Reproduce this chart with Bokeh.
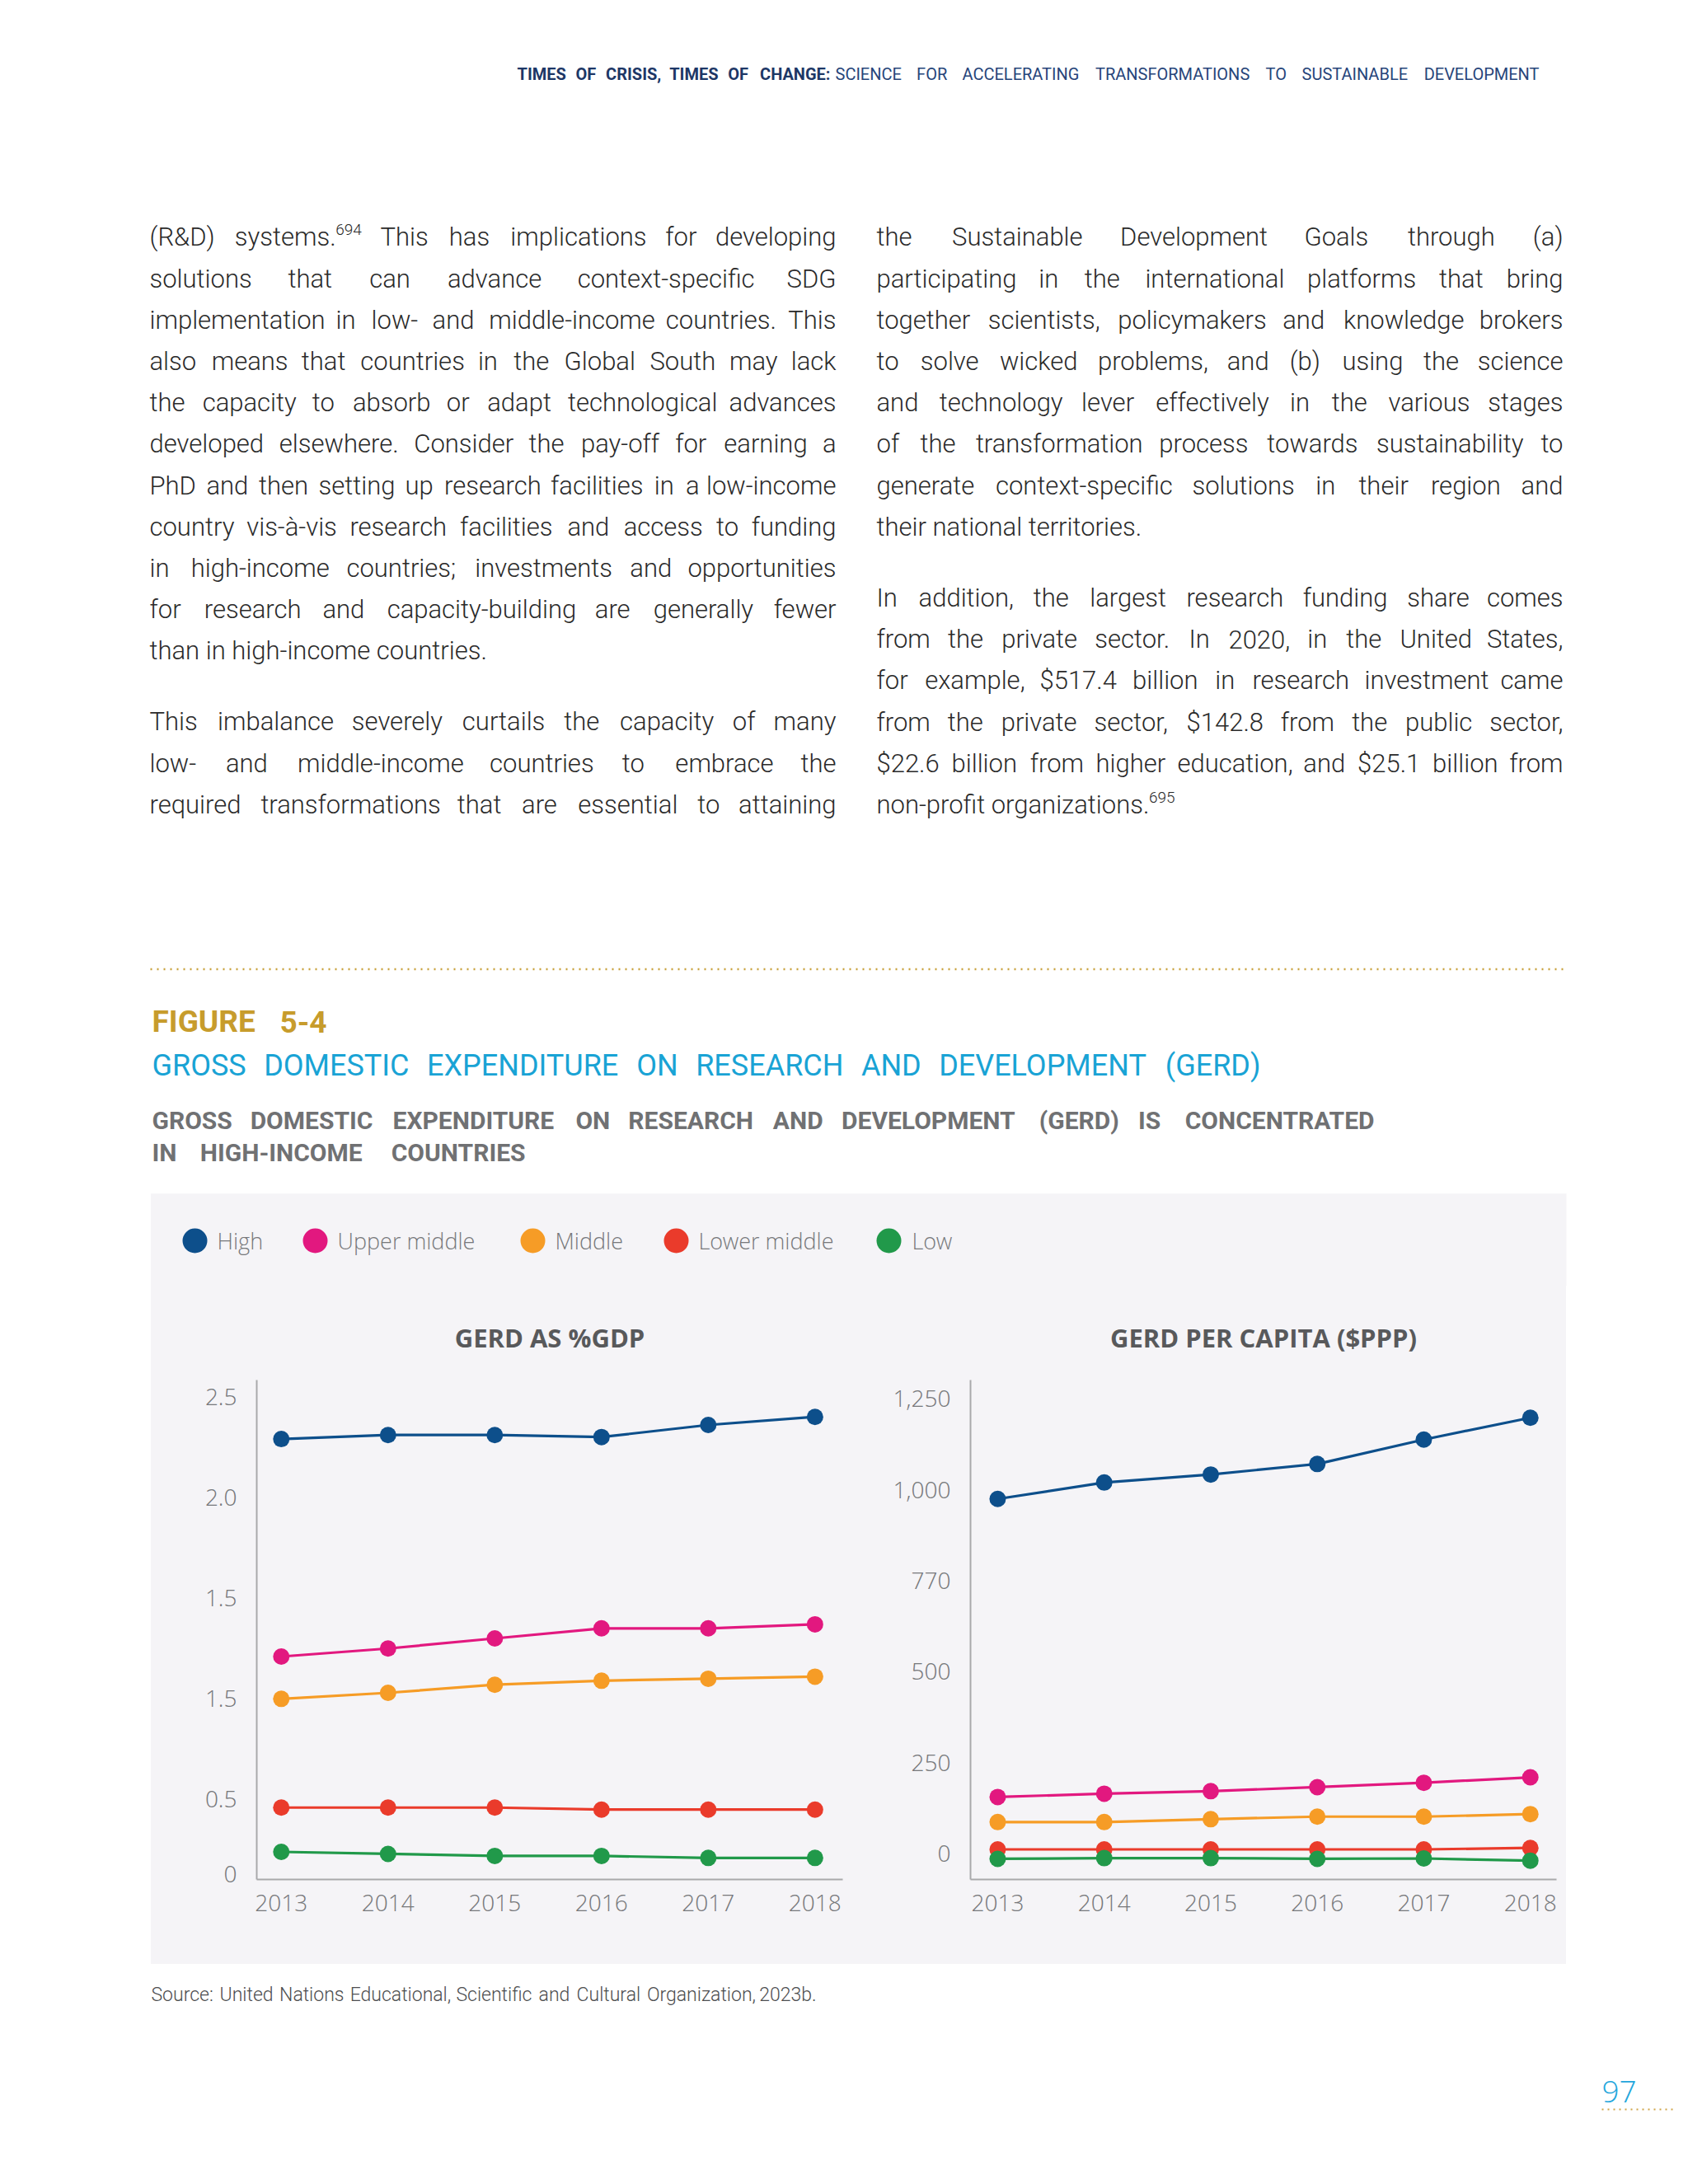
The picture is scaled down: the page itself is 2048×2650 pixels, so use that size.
from bokeh.plotting import figure
from bokeh.layouts import column, row, Spacer
from bokeh.models import Range1d, FixedTicker, ColumnDataSource
from bokeh.core.properties import value
from bokeh.embed import file_html
from bokeh.resources import INLINE

# ---------------- data ----------------
years = [2013, 2014, 2015, 2016, 2017, 2018]
groups = ["High", "Upper middle", "Middle", "Lower middle", "Low"]
colors = ["#0d4f8b", "#e2187f", "#f69c26", "#ea3b2b", "#21994a"]

gdp_high = [2.29, 2.31, 2.31, 2.30, 2.36, 2.40]
gdp_upper_middle = [1.21, 1.25, 1.30, 1.35, 1.35, 1.37]
gdp_middle = [1.00, 1.03, 1.07, 1.09, 1.10, 1.11]
gdp_lower_middle = [0.46, 0.46, 0.46, 0.45, 0.45, 0.45]
gdp_low = [0.24, 0.23, 0.22, 0.22, 0.21, 0.21]

pc_high = [975, 1020, 1042, 1071, 1138, 1198]
pc_upper_middle = [156, 165, 172, 183, 195, 210]
pc_middle = [87, 87, 95, 102, 102, 109]
pc_lower_middle = [12, 12, 12, 12, 12, 16]
pc_low = [-14, -12, -12, -14, -13, -19]

gdp_ticks = [0.13, 0.5, 1.0, 1.5, 2.0, 2.5]
gdp_tick_labels = ["0", "0.5", "1.5", "1.5", "2.0", "2.5"]
pc_ticks = [0, 250, 500, 750, 1000, 1250]
pc_tick_labels = ["0", "250", "500", "770", "1,000", "1,250"]

header_bold = "TIMES OF CRISIS, TIMES OF CHANGE:"
header_rest = "SCIENCE FOR ACCELERATING TRANSFORMATIONS TO SUSTAINABLE DEVELOPMENT"

left_para1 = [
    "(R&D) systems.^694 This has implications for developing",
    "solutions that can advance context-specific SDG",
    "implementation in low- and middle-income countries. This",
    "also means that countries in the Global South may lack",
    "the capacity to absorb or adapt technological advances",
    "developed elsewhere. Consider the pay-off for earning a",
    "PhD and then setting up research facilities in a low-income",
    "country vis-à-vis research facilities and access to funding",
    "in high-income countries; investments and opportunities",
    "for research and capacity-building are generally fewer",
    "than in high-income countries.",
]
left_para2 = [
    "This imbalance severely curtails the capacity of many",
    "low- and middle-income countries to embrace the",
    "required transformations that are essential to attaining",
]
right_para1 = [
    "the Sustainable Development Goals through (a)",
    "participating in the international platforms that bring",
    "together scientists, policymakers and knowledge brokers",
    "to solve wicked problems, and (b) using the science",
    "and technology lever effectively in the various stages",
    "of the transformation process towards sustainability to",
    "generate context-specific solutions in their region and",
    "their national territories.",
]
right_para2 = [
    "In addition, the largest research funding share comes",
    "from the private sector. In 2020, in the United States,",
    "for example, $517.4 billion in research investment came",
    "from the private sector, $142.8 from the public sector,",
    "$22.6 billion from higher education, and $25.1 billion from",
    "non-profit organizations.^695",
]

figure_label = "FIGURE 5-4"
figure_title = "GROSS DOMESTIC EXPENDITURE ON RESEARCH AND DEVELOPMENT (GERD)"
figure_subtitle = ["GROSS DOMESTIC EXPENDITURE ON RESEARCH AND DEVELOPMENT (GERD) IS CONCENTRATED",
                   "IN HIGH-INCOME COUNTRIES"]
chart_titles = ["GERD AS %GDP", "GERD PER CAPITA ($PPP)"]
source_text = "Source: United Nations Educational, Scientific and Cultural Organization, 2023b."
page_number = "97"

# ---------------- styles ----------------
PANEL = "#f5f4f7"
BODY_FONT = "Roboto"
LIGHT_FONT = "Roboto Light, Roboto"
CHART_FONT = "Open Sans"
CHART_LIGHT = "Open Sans Light, Open Sans"
TICK_GRAY = "#77787b"

# approximate Roboto advance widths (em)
RW = {' ': .248, '!': .258, '"': .32, '$': .562, '%': .733, '&': .622, "'": .174, '(': .342, ')': .348,
      ',': .196, '-': .276, '.': .263, '/': .412, ':': .242, ';': .212, '?': .473}
for d in "0123456789":
    RW[d] = .562
RW.update(dict(A=.652, B=.622, C=.651, D=.655, E=.568, F=.553, G=.681, H=.713, I=.272, J=.552, K=.627,
               L=.538, M=.873, N=.713, O=.688, P=.631, Q=.688, R=.616, S=.593, T=.597, U=.648, V=.636,
               W=.887, X=.627, Y=.601, Z=.599))
RW.update(dict(a=.544, b=.561, c=.523, d=.564, e=.530, f=.347, g=.561, h=.551, i=.243, j=.239, k=.507,
               l=.243, m=.876, n=.552, o=.570, p=.561, q=.568, r=.338, s=.516, t=.327, u=.551, v=.484,
               w=.751, x=.496, y=.473, z=.496))
RW['à'] = .544
LIGHT_SCALE = 0.955  # the light face is a little narrower
SUP_SCALE = 0.975


def tw(s, size, bold=False):
    return sum(RW.get(c, .55) for c in s) * size * (1.04 if bold else 1.0)


def draw_items(p, items, size, font, color, bold=False):
    for align in ("left", "right"):
        sel = [it for it in items if it[3] == align]
        if not sel:
            continue
        src = ColumnDataSource(dict(x=[s[0] for s in sel], y=[s[1] for s in sel], text=[s[2] for s in sel]))
        p.text(x="x", y="y", text="text", source=src, text_align=align, text_baseline="middle",
               text_font=value(font), text_font_size=f"{size}px", text_color=color,
               text_font_style="bold" if bold else "normal")


def line_items(line, x0, x1, y, size, justify, bold=False, scale=1.0):
    """returns (main items, superscript items)"""
    items, sups = [], []
    if not justify:
        if "^" in line:
            b, s = line.split("^")
            items.append((x0, y, b, "left"))
            sups.append((x0 + tw(b, size, bold) * SUP_SCALE + 1, y - size * 0.30, s, "left"))
        else:
            items.append((x0, y, line, "left"))
        return items, sups
    words = line.split(" ")
    parts = []
    for w in words:
        if "^" in w:
            b, s = w.split("^")
        else:
            b, s = w, ""
        wd = (tw(b, size, bold) + (tw(s, size * 0.62, bold) if s else 0)) * scale
        parts.append((b, s, wd))
    n = len(parts)
    gap = (x1 - x0 - sum(pp[2] for pp in parts)) / max(n - 1, 1)
    gap = max(gap, size * 0.18)
    x = x0
    for i, (b, s, wd) in enumerate(parts):
        if i == n - 1 and not s and n > 1:
            items.append((x1, y, b, "right"))
        else:
            items.append((x, y, b, "left"))
            if s:
                sups.append((x + tw(b, size, bold) * SUP_SCALE + 1, y - size * 0.30, s, "left"))
        x += wd + gap
    return items, sups


# ---------------- top part of the page ----------------
TOP_H = 1560
top = figure(width=2032, height=TOP_H, x_range=Range1d(0, 2032), y_range=Range1d(TOP_H, 0),
             output_backend="svg", toolbar_location=None, min_border=0,
             x_axis_type=None, y_axis_type=None, outline_line_color=None)
top.grid.visible = False

# running header
hb, _ = line_items(header_bold, 627, 1007, 89, 20, True, bold=True)
draw_items(top, hb, 20, BODY_FONT, "#1d3766", bold=True)
hr, _ = line_items(header_rest, 1013, 1867, 89, 20, True)
draw_items(top, hr, 20, BODY_FONT, "#27457a")

# body text
BODY_SIZE = 31
LH = 50.2
body, sups = [], []


def add_para(lines, x0, x1, y0, justify_last):
    for i, ln in enumerate(lines):
        last = (i == len(lines) - 1)
        it, su = line_items(ln, x0, x1, y0 + i * LH, BODY_SIZE, (not last) or justify_last,
                            scale=LIGHT_SCALE)
        body.extend(it)
        sups.extend(su)


add_para(left_para1, 181, 1014, 287.3, False)
add_para(left_para2, 181, 1014, 875.3, True)
add_para(right_para1, 1063, 1896, 287.3, False)
add_para(right_para2, 1063, 1896, 725.0, False)
draw_items(top, body, BODY_SIZE, LIGHT_FONT, "#2a2a2a")
draw_items(top, sups, 19, LIGHT_FONT, "#2a2a2a")

# dotted rule
top.line([182, 1900], [1175.5, 1175.5], line_color="#c9a23e", line_width=2.5, line_dash="2 6")

# figure headings
fl, _ = line_items(figure_label, 184, 396, 1239, 37, True, bold=True)
draw_items(top, fl, 37, BODY_FONT, "#c79c2c", bold=True)
ft, _ = line_items(figure_title, 184, 1529, 1292, 36, True)
draw_items(top, ft, 36, BODY_FONT, "#19a3d5")
st1, _ = line_items(figure_subtitle[0], 184, 1667, 1359, 30, True, bold=True)
st2, _ = line_items(figure_subtitle[1], 184, 637, 1398, 30, True, bold=True)
draw_items(top, st1 + st2, 30, BODY_FONT, "#707173", bold=True)

# grey panel top + legend
top.quad(left=[182.5], right=[1900], top=[1447.7], bottom=[TOP_H + 2], fill_color=PANEL, line_color=None)
leg_dot_x = [236, 382, 646, 820, 1078]
leg_txt_x = [263, 409, 673, 847, 1106]
top.scatter(x=leg_dot_x, y=[1505] * 5, size=30, color=colors, line_color=None)
draw_items(top, [(x, 1505, g, "left") for x, g in zip(leg_txt_x, groups)], 27, CHART_LIGHT, TICK_GRAY)

# ---------------- charts ----------------
ROW_H = 2383 - TOP_H
FRAME_TOP = 1674


def make_chart(title, series, xr, yr, ticks, labels, width, mbl, mbr):
    p = figure(width=width, height=ROW_H, x_range=Range1d(*xr), y_range=Range1d(*yr),
               output_backend="svg", toolbar_location=None, title=title,
               min_border_left=mbl, min_border_right=mbr, min_border_top=FRAME_TOP - TOP_H,
               min_border_bottom=103,
               background_fill_color=PANEL, border_fill_color=PANEL, outline_line_color=None)
    p.grid.visible = False
    p.title.align = "center"
    p.title.text_font = CHART_FONT
    p.title.text_font_size = "31px"
    p.title.text_font_style = "bold"
    p.title.text_color = "#58595b"
    p.title.standoff = 62
    for ax in (p.xaxis[0], p.yaxis[0]):
        ax.axis_line_color = "#a9a9ab"
        ax.axis_line_width = 2
        ax.major_tick_line_color = None
        ax.minor_tick_line_color = None
        ax.major_label_text_font = CHART_LIGHT
        ax.major_label_text_font_size = "28px"
        ax.major_label_text_color = TICK_GRAY
    p.xaxis.ticker = FixedTicker(ticks=years)
    p.xaxis.major_label_standoff = 12
    p.yaxis.ticker = FixedTicker(ticks=ticks)
    p.yaxis.major_label_overrides = {t: l for t, l in zip(ticks, labels)}
    p.yaxis.major_label_standoff = 18
    for vals, c in zip(series, colors):
        p.line(years, vals, line_color=c, line_width=3.2)
        p.scatter(years, vals, size=20, color=c, line_color=None)
    return p


c1 = make_chart(chart_titles[0],
                [gdp_high, gdp_upper_middle, gdp_middle, gdp_lower_middle, gdp_low],
                (2012.77, 2018.26), (0.103, 2.583), gdp_ticks, gdp_tick_labels, 897, 128, 58)
c2 = make_chart(chart_titles[1],
                [pc_high, pc_upper_middle, pc_middle, pc_lower_middle, pc_low],
                (2012.745, 2018.246), (-70.7, 1301.6), pc_ticks, pc_tick_labels, 820, 97, 12)

charts = row(c1, c2, styles={"background-color": PANEL})
chart_row = row(Spacer(width=183, height=ROW_H), charts, Spacer(width=132, height=ROW_H))

# ---------------- bottom of the page ----------------
BOT0 = 2383
BOT_H = 251
bottom = figure(width=2032, height=BOT_H, x_range=Range1d(0, 2032), y_range=Range1d(BOT0 + BOT_H, BOT0),
                output_backend="svg", toolbar_location=None, min_border=0,
                x_axis_type=None, y_axis_type=None, outline_line_color=None)
bottom.grid.visible = False
src_items, _ = line_items(source_text, 183, 990, 2420, 23, True, scale=LIGHT_SCALE)
draw_items(bottom, src_items, 23, LIGHT_FONT, "#4d4e50")
draw_items(bottom, [(1943, 2537, page_number, "left")], 37, CHART_LIGHT, "#23a6dc")
bottom.line([1943, 2032], [2559, 2559], line_color="#d0a448", line_width=2, line_dash="2 5")

layout = column(top, chart_row, bottom)
open("out.html", "w").write(file_html(layout, INLINE))
